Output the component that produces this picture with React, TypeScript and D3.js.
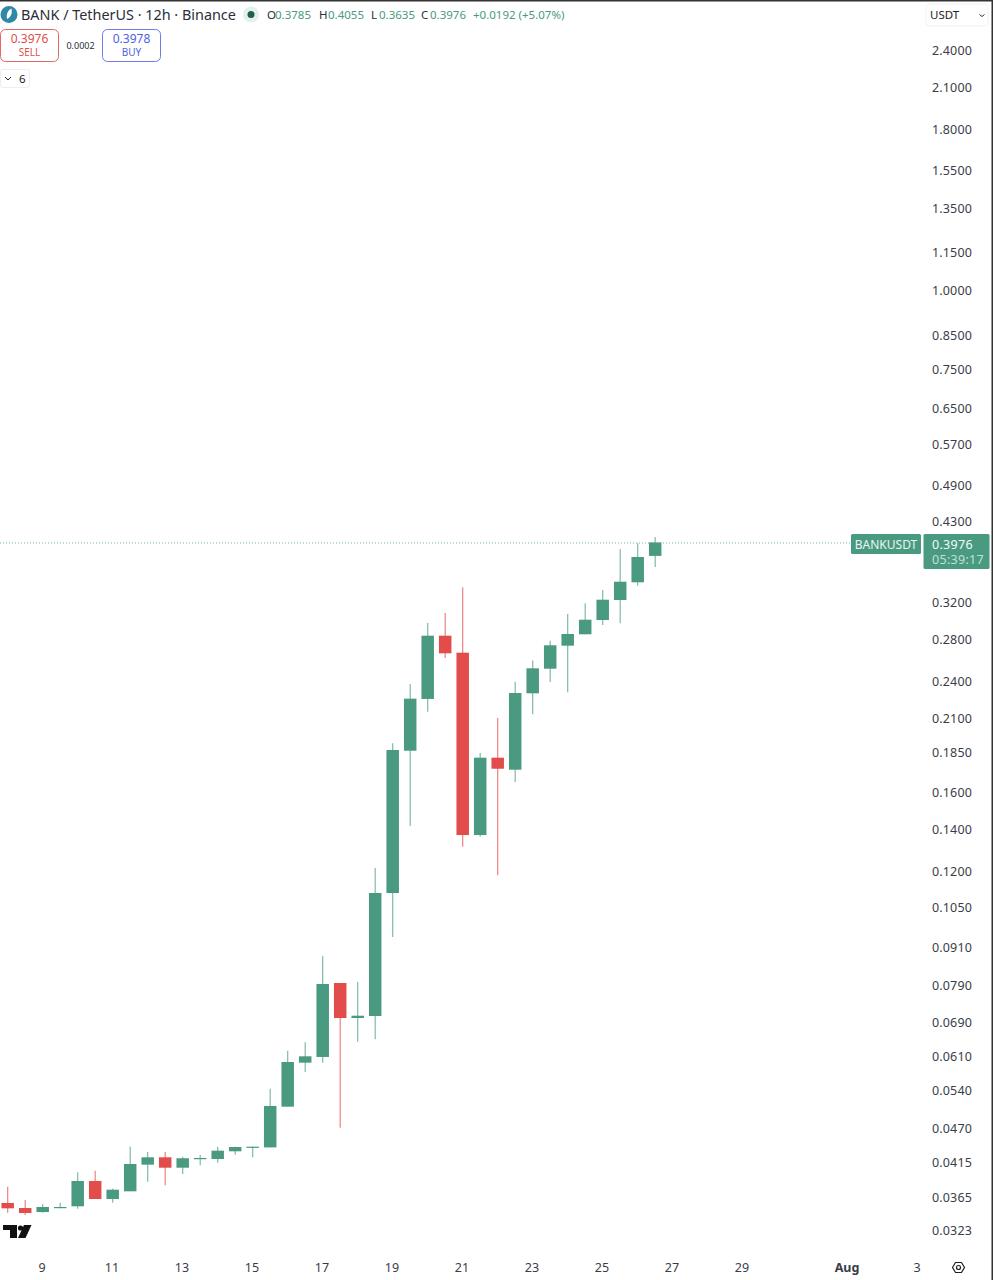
import * as d3 from 'd3'

// candle time in days of July, 12h apart
const times = [
  8, 8.5, 9, 9.5, 10, 10.5, 11, 11.5, 12, 12.5, 13, 13.5, 14, 14.5, 15, 15.5, 16, 16.5, 17,
  17.5, 18, 18.5, 19, 19.5, 20, 20.5, 21, 21.5, 22, 22.5, 23, 23.5, 24, 24.5, 25, 25.5, 26, 26.5,
]
const opens = [
  0.03565, 0.035, 0.03449, 0.03504, 0.03522, 0.03863, 0.03617, 0.0372, 0.041, 0.04212, 0.04055,
  0.0419, 0.04186, 0.04305, 0.04369, 0.04367, 0.05067, 0.0595, 0.06075, 0.07959, 0.07004, 0.07055,
  0.11055, 0.18584, 0.2245, 0.28283, 0.26582, 0.1366, 0.18117, 0.17341, 0.22918, 0.25073, 0.27271,
  0.28429, 0.2995, 0.3222, 0.3437, 0.3785,
]
const highs = [
  0.03783, 0.03604, 0.03552, 0.03569, 0.03988, 0.04011, 0.03756, 0.04378, 0.04294, 0.04294, 0.04221,
  0.04248, 0.04378, 0.04378, 0.04381, 0.05411, 0.06216, 0.0641, 0.08784, 0.07959, 0.07988, 0.12112,
  0.19094, 0.23711, 0.29625, 0.30726, 0.33749, 0.18431, 0.20943, 0.23911, 0.25834, 0.27771, 0.30615,
  0.31834, 0.33418, 0.38815, 0.39631, 0.4055,
]
const lows = [
  0.03441, 0.03412, 0.03441, 0.03496, 0.03491, 0.03617, 0.03569, 0.0372, 0.03853, 0.03803, 0.03963,
  0.04091, 0.0413, 0.04252, 0.04212, 0.04365, 0.05067, 0.05751, 0.0595, 0.04693, 0.06424, 0.0648,
  0.09415, 0.14118, 0.21431, 0.26072, 0.13091, 0.13577, 0.11792, 0.16578, 0.21226, 0.23881, 0.23002,
  0.28429, 0.2941, 0.29592, 0.33947, 0.3635,
]
const closes = [
  0.03496, 0.03437, 0.03513, 0.03513, 0.03863, 0.03617, 0.03742, 0.0411, 0.04212, 0.04055, 0.04197,
  0.04201, 0.04315, 0.04373, 0.04378, 0.0508, 0.05965, 0.0609, 0.0793, 0.07004, 0.07063, 0.11055,
  0.18633, 0.22474, 0.28283, 0.26523, 0.1366, 0.18117, 0.17402, 0.22943, 0.25109, 0.27311, 0.2846,
  0.29984, 0.32255, 0.34446, 0.37697, 0.3976,
]

const priceTicks = [
  2.4, 2.1, 1.8, 1.55, 1.35, 1.15, 1.0, 0.85, 0.75, 0.65, 0.57, 0.49, 0.43, 0.32, 0.28, 0.24, 0.21,
  0.185, 0.16, 0.14, 0.12, 0.105, 0.091, 0.079, 0.069, 0.061, 0.054, 0.047, 0.0415, 0.0365, 0.0323,
]
const dayTicks = [9, 11, 13, 15, 17, 19, 21, 23, 25, 27, 29]
const monthTicks = [{ day: 32, label: 'Aug' }]
const extraDayTicks = [{ day: 34, label: '3' }]

const lastPrice = 0.3976
const green = '#4a9a82'
const red = '#e24d4b'
const font = '"Noto Sans", "Open Sans", sans-serif'

export default function App() {
  const y = d3.scaleLog().domain([2.4, 0.0323]).range([50, 1230])
  const x = d3.scaleLinear().domain([9, 11]).range([42, 112])
  const bodyW = 12.5

  return (
    <svg
      width={993}
      height={1280}
      style={{ position: 'absolute', left: 0, top: 0, background: '#fff', fontFamily: font }}
    >
      {/* screenshot edges */}
      <rect x={0} y={0} width={993} height={1.5} fill="#333" />
      <rect x={991.5} y={0} width={1.5} height={1280} fill="#333" />

      {/* last price line */}
      <line
        x1={0}
        x2={851}
        y1={Math.round(y(lastPrice)) + 1}
        y2={Math.round(y(lastPrice)) + 1}
        stroke={green}
        strokeOpacity={0.75}
        strokeDasharray="1 2"
      />

      {/* candles */}
      <g transform="translate(0.7,0)">
        {times.map((t, i) => {
          const up = closes[i] >= opens[i]
          const color = up ? green : red
          const top = y(Math.max(opens[i], closes[i]))
          const bottom = y(Math.min(opens[i], closes[i]))
          return (
            <g key={t}>
              <line
                x1={x(t)}
                x2={x(t)}
                y1={y(highs[i])}
                y2={y(lows[i])}
                stroke={color}
                strokeOpacity={0.7}
                strokeWidth={1.2}
              />
              <rect
                x={x(t) - bodyW / 2}
                y={top}
                width={bodyW}
                height={Math.max(bottom - top, 1.2)}
                fill={color}
              />
            </g>
          )
        })}
      </g>

      {/* price axis */}
      <g fontSize={12.5} fill="#3a3d47" textAnchor="end" letterSpacing={0.15}>
        {priceTicks.map(p => (
          <text key={p} x={972} y={y(p) + 5.3}>
            {p.toFixed(4)}
          </text>
        ))}
      </g>

      {/* time axis */}
      <g fontSize={12.5} fill="#3a3d47" textAnchor="middle">
        {dayTicks.map(d => (
          <text key={d} x={x(d)} y={1271.5}>
            {d}
          </text>
        ))}
        {monthTicks.map(m => (
          <text key={m.label} x={x(m.day)} y={1272} fontWeight={700}>
            {m.label}
          </text>
        ))}
        {extraDayTicks.map(d => (
          <text key={d.label} x={x(d.day)} y={1271.5}>
            {d.label}
          </text>
        ))}
      </g>

      {/* settings icon */}
      <path
        d="M952.5 1267.5 L955.5 1262.5 L961.5 1262.5 L964.5 1267.5 L961.5 1272.5 L955.5 1272.5 Z"
        fill="none"
        stroke="#222"
        strokeWidth={1.2}
      />
      <circle cx={958.5} cy={1267.5} r={2} fill="none" stroke="#222" strokeWidth={1.2} />

      {/* symbol and price labels */}
      <rect x={851} y={534} width={70} height={20} rx={1.5} fill={green} />
      <text x={886} y={549} fontSize={12} fill="#e9f5f1" textAnchor="middle">
        BANKUSDT
      </text>
      <rect x={923.5} y={534} width={66} height={35} rx={1.5} fill={green} />
      <text x={932} y={549} fontSize={12.5} fill="#f2faf7" letterSpacing={0.3}>
        0.3976
      </text>
      <text x={932} y={564} fontSize={12.5} fill="#bfe0d5" letterSpacing={0.3}>
        05:39:17
      </text>

      {/* currency selector */}
      <rect x={926} y={4} width={62} height={22} rx={3} fill="#fff" stroke="#f0f1f3" />
      <text x={930} y={19} fontSize={11.5} fill="#222">
        USDT
      </text>
      <path d="M979.5 14.5 L982 16.5 L984.5 14.5" fill="none" stroke="#333" strokeWidth={1} />

      {/* header */}
      <circle cx={9} cy={14.5} r={8.5} fill="#2f88a8" />
      <path d="M7 19 C6 14 8 10 11.5 8.5 C12.5 13 11 17 7 19 Z" fill="#fff" />
      <text x={21} y={20} fontSize={14.4} fill="#2a2e39">
        BANK / TetherUS · 12h · Binance
      </text>
      <circle cx={251} cy={14.5} r={8} fill="#e3f0ec" />
      <circle cx={251} cy={14.5} r={3.5} fill="#1f5f4c" />
      <g fontSize={11.5}>
        <text x={267} y={19} fill="#2a2e39">O</text>
        <text x={275} y={19} fill={green}>0.3785</text>
        <text x={319} y={19} fill="#2a2e39">H</text>
        <text x={328} y={19} fill={green}>0.4055</text>
        <text x={371} y={19} fill="#2a2e39">L</text>
        <text x={379} y={19} fill={green}>0.3635</text>
        <text x={421} y={19} fill="#2a2e39">C</text>
        <text x={430} y={19} fill={green}>0.3976</text>
        <text x={473} y={19} fill={green}>+0.0192 (+5.07%)</text>
      </g>

      {/* sell and buy buttons */}
      <rect x={0.5} y={29.5} width={58} height={32} rx={5} fill="#fff" stroke={red} strokeOpacity={0.85} />
      <text x={29.5} y={43} fontSize={12} fill={red} textAnchor="middle">0.3976</text>
      <text x={29.5} y={56} fontSize={10} fill={red} textAnchor="middle">SELL</text>
      <text x={80.5} y={48.5} fontSize={9} fill="#2a2e39" textAnchor="middle">0.0002</text>
      <rect x={102.5} y={29.5} width={58} height={32} rx={5} fill="#fff" stroke="#5b6ee8" strokeOpacity={0.9} />
      <text x={131.5} y={43} fontSize={12} fill="#4f62e0" textAnchor="middle">0.3978</text>
      <text x={131.5} y={56} fontSize={10} fill="#4f62e0" textAnchor="middle">BUY</text>

      {/* collapsed indicators */}
      <rect x={0.5} y={69.5} width={29} height={18} rx={2} fill="#fff" stroke="#eceef2" />
      <path d="M5 77 L8 80 L11 77" fill="none" stroke="#222" strokeWidth={1} />
      <text x={19} y={83} fontSize={11.5} fill="#222">6</text>

      {/* TradingView mark */}
      <path d="M3 1225 H17 V1238 H10 V1230 H3 Z" fill="#111" />
      <circle cx={20.5} cy={1228} r={2.6} fill="#111" />
      <path d="M24 1225 H31.5 L25.5 1238 H18 Z" fill="#111" />
    </svg>
  )
}
